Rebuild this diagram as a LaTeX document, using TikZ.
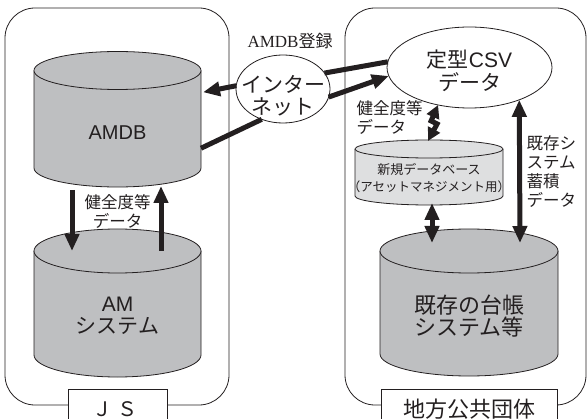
\documentclass[tikz,border=0pt]{standalone}
\usepackage{fontspec}
\setmainfont{Liberation Serif}
\newfontfamily\jp{Noto Sans CJK JP}
\newfontfamily\lsans{Liberation Sans}
\usetikzlibrary{arrows.meta,shapes.geometric,calc}
\definecolor{dbgray}{RGB}{190,191,193}
\definecolor{dblight}{RGB}{222,223,224}
\definecolor{ink}{RGB}{35,31,32}

\begin{document}
\begin{tikzpicture}[x=1pt, y=-1pt,
    panel/.style={rectangle, draw=ink, line width=0.8pt, rounded corners=30pt, inner sep=0pt},
    tag/.style={rectangle, draw=ink, fill=white, line width=0.8pt, minimum height=36pt, inner sep=0pt},
    body/.style={rectangle, inner sep=0pt, outer sep=0pt},
    can/.style={draw=ink, fill=dbgray, line width=0.8pt},
    bubble/.style={ellipse, draw=ink, fill=white, line width=0.8pt, inner sep=0pt, outer sep=0pt},
    bigtxt/.style={font=\jp\fontsize{21}{22}\selectfont, align=center, text=ink},
    note/.style={font=\jp\fontsize{16.5}{19}\selectfont, text=ink, align=left},
    fat/.style={line width=5pt, draw=ink},
    fatarrow/.style={fat, -{Triangle[length=17pt,width=14pt]}},
    fatboth/.style={fat, {Triangle[length=17pt,width=14pt]}-{Triangle[length=17pt,width=14pt]}}
]
    \useasboundingbox (0,0) rectangle (588,419);

    % Organisation panels
    \node[panel, minimum width=224pt, minimum height=397pt] (jspanel) at (117,206.5) {};
    \node[panel, minimum width=241pt, minimum height=397pt] (lgpanel) at (465.5,206.5) {};
    \node[tag, minimum width=99pt] (jstag) at (117.5,407) {};
    \node[bigtxt, font=\jp\fontsize{20}{22}\selectfont] (jstxt) at (115,409) {Ｊ Ｓ};
    \node[tag, minimum width=176pt] (lgtag) at (469,407) {};
    \node[bigtxt, font=\jp\fontsize{22}{22}\selectfont] (lgtxt) at (469,409) {地方公共団体};

    % Databases (body between the two end ellipses)
    \node[body, minimum width=167pt, minimum height=97.5pt] (amdb) at (117.5,119.25) {};
    \draw[can] (amdb.north west) -- (amdb.south west) arc[start angle=180, end angle=360, x radius=83.5pt, y radius=19pt]
        -- (amdb.north east) arc[start angle=0, end angle=180, x radius=83.5pt, y radius=19pt] -- cycle;
    \draw[can] (amdb.north west) arc[start angle=180, end angle=360, x radius=83.5pt, y radius=19pt];
    \node[bigtxt, font=\lsans\fontsize{20}{22}\selectfont] (amdbtxt) at (117.5,133) {AMDB};

    \node[body, minimum width=167pt, minimum height=104pt] (am) at (117.5,303) {};
    \draw[can] (am.north west) -- (am.south west) arc[start angle=180, end angle=360, x radius=83.5pt, y radius=22pt]
        -- (am.north east) arc[start angle=0, end angle=180, x radius=83.5pt, y radius=22pt] -- cycle;
    \draw[can] (am.north west) arc[start angle=180, end angle=360, x radius=83.5pt, y radius=22pt];
    \node[bigtxt] (amtxt) at (117.5,316) {{\lsans AM}\\システム};

    \node[body, minimum width=178pt, minimum height=103pt] (ledger) at (469,302.5) {};
    \draw[can] (ledger.north west) -- (ledger.south west) arc[start angle=180, end angle=360, x radius=89pt, y radius=22pt]
        -- (ledger.north east) arc[start angle=0, end angle=180, x radius=89pt, y radius=22pt] -- cycle;
    \draw[can] (ledger.north west) arc[start angle=180, end angle=360, x radius=89pt, y radius=22pt];
    \node[bigtxt, font=\jp\fontsize{22}{22}\selectfont] (ledgertxt) at (469,316) {既存の台帳\\システム等};

    \node[body, minimum width=148pt, minimum height=47pt] (newdb) at (429,172.5) {};
    \draw[can, fill=dblight] (newdb.north west) -- (newdb.south west) arc[start angle=180, end angle=360, x radius=74pt, y radius=9pt]
        -- (newdb.north east) arc[start angle=0, end angle=180, x radius=74pt, y radius=9pt] -- cycle;
    \draw[can, fill=dblight] (newdb.north west) arc[start angle=180, end angle=360, x radius=74pt, y radius=9pt];
    \node[bigtxt, font=\jp\fontsize{13}{17}\selectfont] (newdbtxt) at (429,178) {新規データベース\\{\fontsize{12.5}{17}\selectfont （アセットマネジメント用）}};

    % Internet and CSV
    \node[bubble, minimum width=94pt, minimum height=68pt] (inet) at (283,89) {};
    \node[bigtxt] (inettxt) at (283,96) {インター\\ネット};
    \node[bubble, minimum width=165pt, minimum height=81pt] (csv) at (469.5,67.5) {};
    \node[bigtxt, font=\jp\fontsize{21}{23}\selectfont] (csvtxt) at (469.5,71) {定型{\lsans CSV}\\データ};

    % Labels
    \node[note, font=\fontsize{17}{18}\selectfont] (regtxt) at (290,41) {AMDB{\jp 登録}};
    \node[note, align=center] (healthL) at (117.5,211) {健全度等\\データ};
    \node[note, anchor=west] (healthR) at (353,117.5) {健全度等\\データ};
    \node[note, anchor=west] (storetxt) at (523,172) {既存シ\\ステム\\蓄積\\データ};

    % Flows
    \draw[fatarrow] ([xshift=-45.5pt,yshift=-22pt]amdb.south) -- ([xshift=-45.5pt]am.north);
    \draw[fatarrow] ([xshift=43.5pt]am.north) -- ([xshift=43.5pt,yshift=-18pt]amdb.south);
    \draw[fatarrow] (inet.176) -- ([xshift=2pt,yshift=27pt]amdb.east);
    \draw[fat] ([yshift=-29pt]amdb.east) -- (inet.235);
    \draw[fat] (csv.176) -- (inet.21);
    \draw[fatarrow] (inet.350) -- (csv.186);
    \draw[fatboth, {Triangle[length=13pt,width=13pt]}-{Triangle[length=13pt,width=13pt]}] (csv.230) -- ++(-7,16) -- ++(6,3) -- ([xshift=-1pt,yshift=8pt]newdb.north);
    \draw[fatboth] ([xshift=3pt,yshift=-7pt]newdb.south) -- ([xshift=-37pt,yshift=8pt]ledger.north);
    \draw[fatboth] (csv.327.6) -- ([xshift=51pt,yshift=8pt]ledger.north);

\end{tikzpicture}
\end{document}
